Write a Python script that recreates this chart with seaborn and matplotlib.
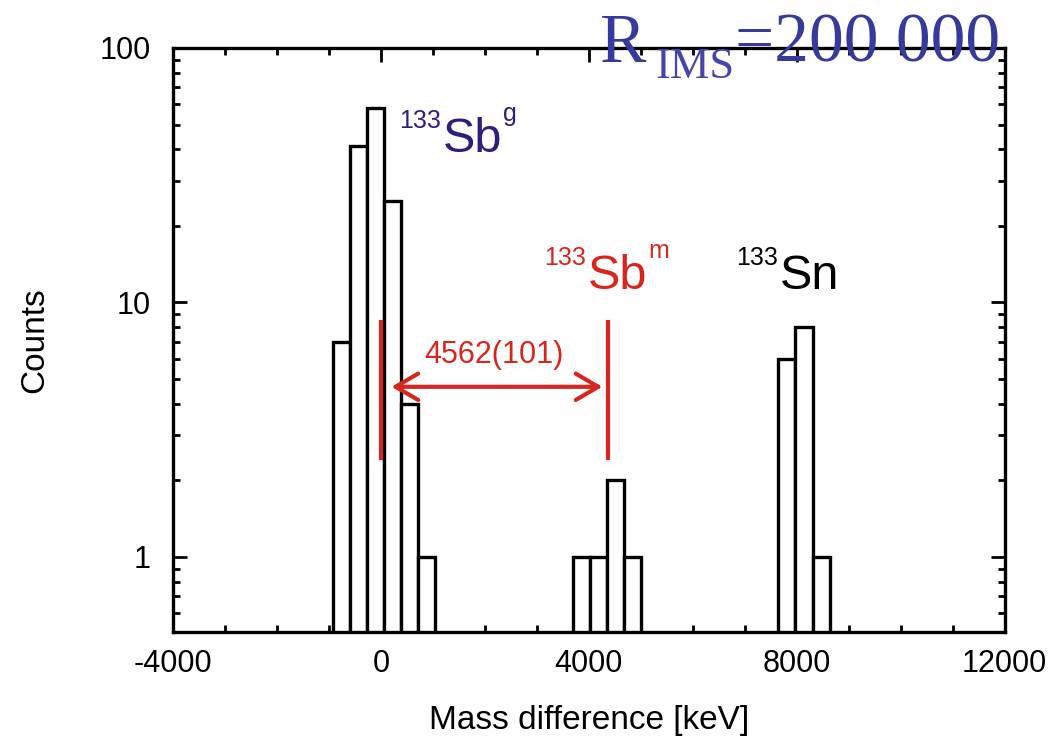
import numpy as np
import matplotlib
matplotlib.use("Agg")
import matplotlib.pyplot as plt
import matplotlib.ticker as mticker
import seaborn as sns

# histogram bins (centre of bin, keV) and the counts in them
mass_diff = [-770, -440, -110, 220, 550, 880,
             3850, 4180, 4510, 4840,
             7810, 8140, 8470]
counts = [7, 41, 58, 25, 4, 1,
          1, 1, 2, 1,
          6, 8, 1]
bin_width = 330
bin_range = (-935, 8635)

# red markers for the two Sb peaks and the measured difference
peak_sbg = 0
peak_sbm = 4360
marker_span = (2.41, 8.54)
delta_label = "4562(101)"

x_ticks = [-4000, 0, 4000, 8000, 12000]
y_ticks = [1, 10, 100]
y_ticklabels = ["1", "10", "100"]

RED = "#d8261e"
NAVY = "#2e1f7e"
BLUE = "#363a9c"

sns.set_theme(style="ticks")
plt.rcParams['font.family'] = ['Liberation Sans', 'DejaVu Sans']
plt.rcParams['axes.unicode_minus'] = False
plt.rcParams['text.color'] = "black"
plt.rcParams['axes.labelcolor'] = "black"

fig = plt.figure(figsize=(10.63, 7.37), dpi=100)
ax = fig.add_axes([0.163, 0.1425, 0.782, 0.7925])

sns.histplot(x=mass_diff, weights=counts, binwidth=bin_width, binrange=bin_range,
             ax=ax, color="white", edgecolor="black", linewidth=2.4, alpha=1)
ax.set_yscale("log")
ax.set_xlim(-4000, 12000)
ax.set_ylim(0.507, 100)

#Ticks inward on all four sides
ax.set_xticks(x_ticks)
ax.xaxis.set_minor_locator(mticker.MultipleLocator(1000))
ax.set_yticks(y_ticks)
ax.set_yticklabels(y_ticklabels)
ax.yaxis.set_minor_locator(mticker.LogLocator(base=10, subs=np.arange(2, 10)))
ax.yaxis.set_minor_formatter(mticker.NullFormatter())
ax.tick_params(which="both", direction="in", top=True, right=True, width=2, colors="black")
ax.tick_params(which="major", length=10, labelsize=22)
ax.tick_params(which="minor", length=5)
ax.tick_params(axis="x", which="major", pad=12)
ax.tick_params(axis="y", which="major", pad=16)
for s in ax.spines.values():
    s.set_linewidth(2.4)
    s.set_color("black")

ax.set_xlabel("Mass difference [keV]", fontsize=24, labelpad=19)
ax.set_ylabel("Counts", fontsize=24, labelpad=36)

#Red markers and the double arrow
ax.vlines([peak_sbg, peak_sbm], marker_span[0], marker_span[1], color=RED, lw=3)
ax.annotate("", xy=(peak_sbg + 200, 4.66), xytext=(peak_sbm - 100, 4.66),
            arrowprops=dict(arrowstyle="<->,head_length=0.65,head_width=0.38", lw=3,
                            color=RED, mutation_scale=25, shrinkA=0, shrinkB=0))
ax.text((peak_sbg + peak_sbm) / 2, 5.78, delta_label, color=RED, fontsize=22,
        ha="center", va="baseline")

# isotope label: big element symbol, mass number before it, state after it
def isotope(x, y, el, sup, color):
    main = ax.text(x, y, el, fontsize=35, color=color, va="baseline")
    ax.annotate("133", xy=(0, 1), xycoords=main, xytext=(-1, 6), textcoords="offset points",
                fontsize=18, color=color, ha="right", va="top")
    if sup:
        ax.annotate(sup, xy=(1, 1), xycoords=main, xytext=(1, 11), textcoords="offset points",
                    fontsize=18, color=color, ha="left", va="top")

isotope(1186, 39.0, "Sb", "g", NAVY)
isotope(3975, 11.3, "Sb", "m", RED)
isotope(7667, 11.3, "Sn", None, "black")

#Resolving power in the top right corner
serif = ['Liberation Serif', 'DejaVu Serif']
fig.text(600 / 1063, 1 - 62 / 737, "R", fontsize=50, color=BLUE, family=serif, va="baseline")
fig.text(655 / 1063, 1 - 78 / 737, "IMS", fontsize=32, color="#4446aa", family=serif, va="baseline")
fig.text(735 / 1063, 1 - 62 / 737, "=200 000", fontsize=50, color=BLUE, family=serif, va="baseline")

plt.savefig("out.png", dpi=100)
